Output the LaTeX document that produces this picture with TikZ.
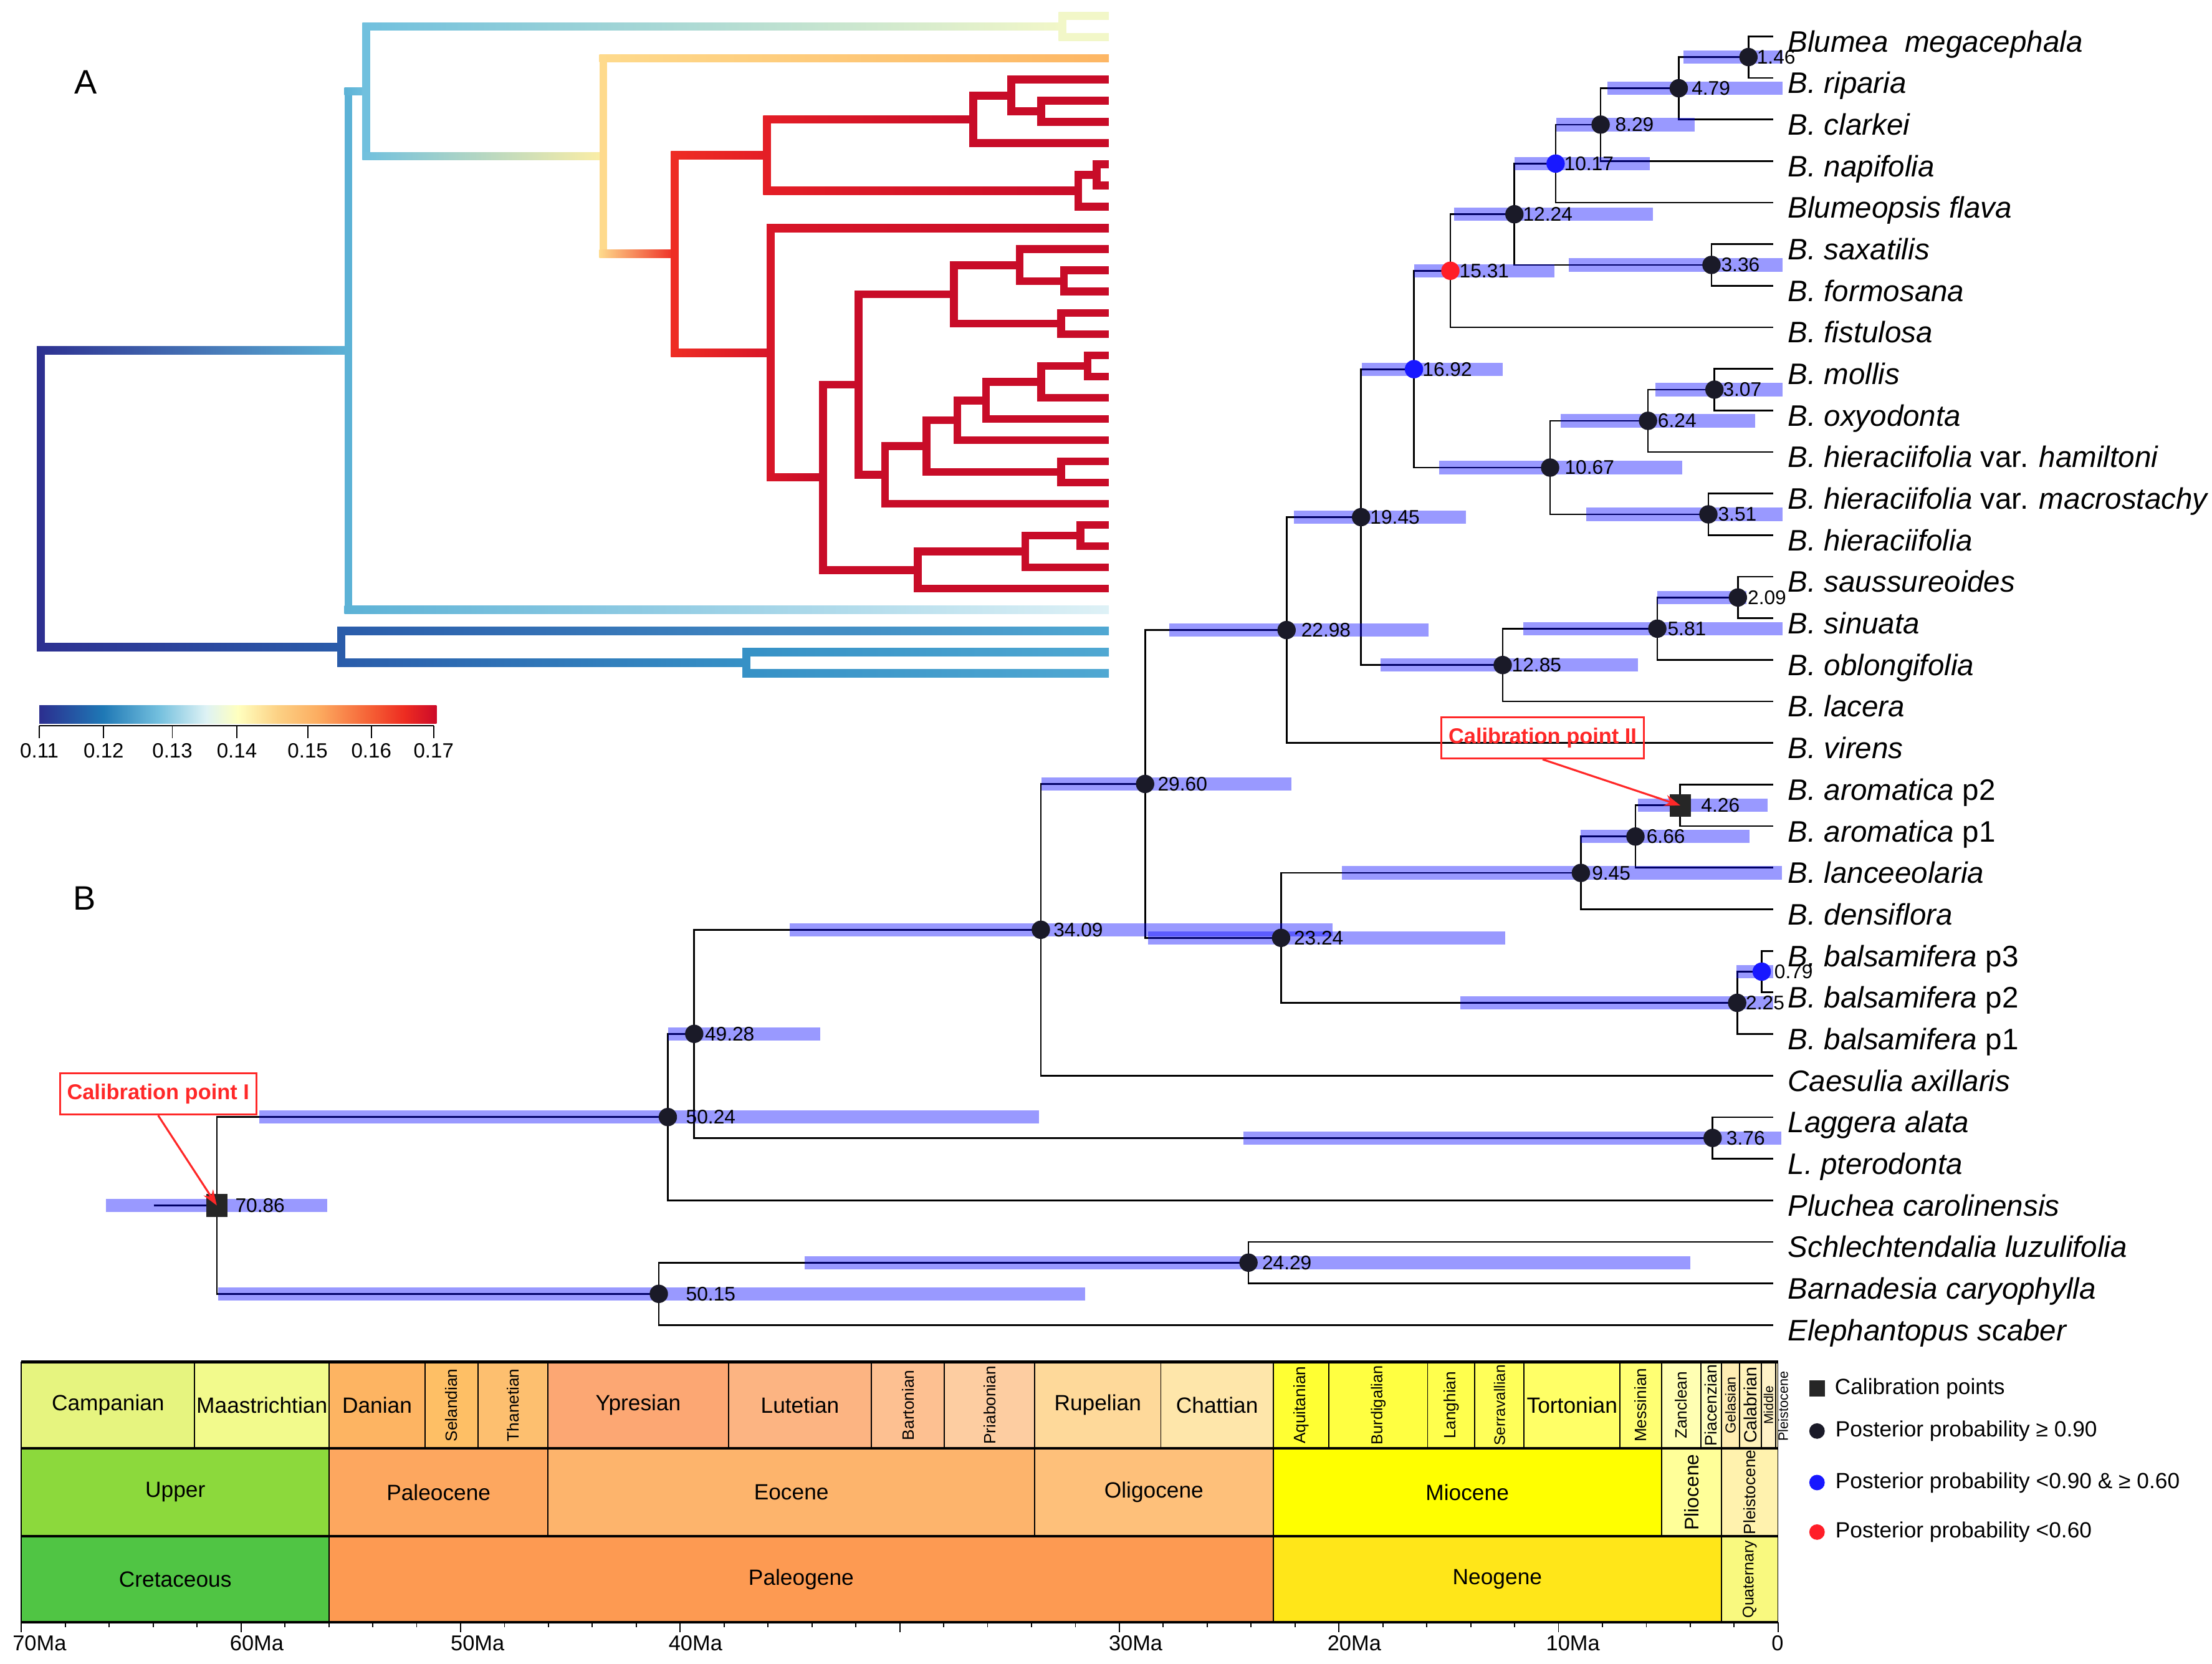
\documentclass[tikz,border=0pt]{standalone}
\usepackage{fontspec}
\setmainfont{Liberation Sans}
\usetikzlibrary{positioning,calc,arrows.meta}

\definecolor{hpd}{RGB}{0,0,255}
\definecolor{ppdark}{RGB}{26,26,40}
\definecolor{ppblue}{RGB}{24,24,255}
\definecolor{ppred}{RGB}{255,30,40}
\definecolor{calgrey}{RGB}{38,38,38}
\definecolor{calred}{RGB}{255,40,40}
% rate colours, panel A
\definecolor{aNavy}{RGB}{45,48,145}
\definecolor{aBlue}{RGB}{42,92,170}
\definecolor{aMid}{RGB}{32,115,182}
\definecolor{aTeal}{RGB}{54,145,198}
\definecolor{aLight}{RGB}{80,168,210}
\definecolor{aSky}{RGB}{92,178,214}
\definecolor{aSky2}{RGB}{112,192,222}
\definecolor{aIce}{RGB}{200,232,240}
\definecolor{aPale}{RGB}{222,241,246}
\definecolor{aCream}{RGB}{242,247,200}
\definecolor{aLemon}{RGB}{252,238,165}
\definecolor{aSand}{RGB}{254,218,140}
\definecolor{aOrange}{RGB}{253,182,100}
\definecolor{aFlame}{RGB}{247,125,72}
\definecolor{aRed}{RGB}{238,45,36}
\definecolor{aRed2}{RGB}{228,30,38}
\definecolor{aRed3}{RGB}{216,22,40}
\definecolor{aCrim}{RGB}{200,12,40}
% time scale
\definecolor{campan}{RGB}{230,244,127}
\definecolor{maastr}{RGB}{242,250,140}
\definecolor{danian}{RGB}{253,180,98}
\definecolor{seland}{RGB}{254,191,101}
\definecolor{thanet}{RGB}{253,191,111}
\definecolor{ypres}{RGB}{252,167,115}
\definecolor{lutet}{RGB}{252,180,130}
\definecolor{barton}{RGB}{253,192,145}
\definecolor{priab}{RGB}{253,205,161}
\definecolor{rupel}{RGB}{254,217,154}
\definecolor{chatt}{RGB}{254,230,170}
\definecolor{aquit}{RGB}{255,255,51}
\definecolor{burdig}{RGB}{255,255,65}
\definecolor{langh}{RGB}{255,255,77}
\definecolor{serra}{RGB}{255,255,89}
\definecolor{torton}{RGB}{255,255,102}
\definecolor{messin}{RGB}{255,255,115}
\definecolor{zancl}{RGB}{255,255,179}
\definecolor{piacen}{RGB}{255,255,191}
\definecolor{gelas}{RGB}{255,237,179}
\definecolor{calab}{RGB}{255,242,186}
\definecolor{midpl}{RGB}{255,242,199}
\definecolor{upper}{RGB}{140,217,60}
\definecolor{paleoc}{RGB}{253,167,95}
\definecolor{eoc}{RGB}{253,180,108}
\definecolor{oligo}{RGB}{254,192,122}
\definecolor{mioc}{RGB}{255,255,0}
\definecolor{plioc}{RGB}{255,255,153}
\definecolor{pleist}{RGB}{255,242,174}
\definecolor{cret}{RGB}{80,197,68}
\definecolor{paleog}{RGB}{253,154,82}
\definecolor{neog}{RGB}{255,230,25}
\definecolor{quat}{RGB}{249,249,127}

\pgfdeclarehorizontalshading{ratebar}{100bp}{rgb(0bp)=(0.17,0.18,0.56); rgb(25bp)=(0.17,0.18,0.56); rgb(33bp)=(0.12,0.47,0.71); rgb(40bp)=(0.45,0.75,0.87); rgb(46bp)=(0.87,0.95,0.96); rgb(50bp)=(1,1,0.75); rgb(55bp)=(0.99,0.82,0.52); rgb(60bp)=(0.99,0.68,0.38); rgb(67bp)=(0.96,0.36,0.2); rgb(71bp)=(0.93,0.17,0.13); rgb(75bp)=(0.80,0.04,0.16); rgb(100bp)=(0.80,0.04,0.16)}

\tikzset{
  aline/.style={line width=2.8pt},
  br/.style={line width=0.6pt},
  bar/.style={draw=hpd, draw opacity=0.4, line width=4.7pt},
  pp/.style={circle, fill=ppdark, inner sep=0pt, minimum size=6.5pt},
  ppb/.style={pp, fill=ppblue},
  ppr/.style={pp, fill=ppred},
  cal/.style={rectangle, fill=calgrey, inner sep=0pt, minimum width=7.5pt, minimum height=8pt},
  age/.style={font=\fontsize{7}{8}\selectfont, anchor=west, inner sep=0pt},
  sp/.style={font=\fontsize{10.5}{12}\selectfont\itshape, anchor=base west, inner sep=0pt},
  calbox/.style={draw=calred, line width=0.75pt, text=calred, font=\fontsize{7.6}{9}\selectfont\bfseries, inner xsep=2.5pt, minimum height=14.5pt},
  calarrow/.style={calred, line width=0.7pt, -{Stealth[length=5.5pt,width=4pt]}},
  tsbox/.style={draw=black, line width=0.4pt},
  tsrule/.style={line width=1pt},
  tstxt/.style={font=\fontsize{7.8}{9}\selectfont, inner sep=0pt},
  tsrot/.style={rotate=90, inner sep=0pt},
  tick/.style={line width=0.4pt},
  axlab/.style={font=\fontsize{7.6}{9}\selectfont, inner sep=0pt},
  cblab/.style={font=\fontsize{7.3}{8}\selectfont, inner sep=0pt},
  legtxt/.style={font=\fontsize{7.8}{9}\selectfont, inner sep=0pt},
  panel/.style={font=\fontsize{12}{14}\selectfont, inner sep=0pt}
}

% parent, child, colour at parent, middle colour, colour at child
\newcommand\abranch[5]{%
  \draw[aline,#3] (#1) -- (#1 |- #2);
  \shade[left color=#3,middle color=#4,right color=#5] ($(#1 |- #2)+(-1.4pt,-1.4pt)$) rectangle ($(#2)+(0,1.4pt)$);}

\begin{document}
\begin{tikzpicture}[x=0.5pt,y=-0.5pt]
\useasboundingbox (0,0) rectangle (1568,1179);

% panel A
\foreach \nm/\x/\y in {ar/28.9/353.45, a1/247/248.44, a2/241.9/458.45, a3/259.7/64.74, a4/753.2/18.82, a5/427.6/110.65, a6/478.3/179.94, a7/543.7/109.94, a8/546.3/249.94, a9/689.8/84.58, a10/764.4/135.3, a11/716.7/67.67, a12/738/78.94, a13/777.5/124.03, a14/583.3/338.27, a15/608.6/272.57, a16/650.7/403.96, a17/676.1/208.57, a18/627.4/336.56, a19/722.8/187.9, a20/752.2/229.24, a21/754.2/199.18, a22/656.8/316.13, a23/678.6/297.81, a24/752.2/334.45, a25/698.9/283.72, a26/738/270.57, a27/771/259.3, a28/726.8/390.81, a29/765.9/379.54, a30/529/469.72}
  \coordinate (\nm) at (\x,\y);
\foreach \k in {0,...,31}
  \coordinate (at\k) at (786,{11.3+15.03*\k});

\foreach \p/\c/\ca/\cb/\cc in {ar/a1/aNavy/aMid/aSky, ar/a2/aNavy/aNavy/aBlue, a1/a3/aSky/aSky/aSky2, a1/at28/aSky/aSky2/aPale, a3/a4/aSky2/aIce/aCream, a3/a5/aSky2/aIce/aLemon, a4/at0/aCream/aCream/aCream, a4/at1/aCream/aCream/aCream, a5/at2/aSand/aSand/aOrange, a5/a6/aSand/aFlame/aRed, a6/a7/aRed/aRed/aRed2, a6/a8/aRed/aRed2/aRed3, a7/a9/aRed2/aRed3/aCrim, a7/a10/aRed2/aRed3/aCrim, a8/at10/aRed3/aCrim/aCrim, a8/a14/aRed3/aCrim/aCrim, a2/at29/aBlue/aMid/aLight, a2/a30/aBlue/aMid/aTeal, a30/at30/aTeal/aTeal/aLight, a30/at31/aTeal/aTeal/aLight}
  \abranch{\p}{\c}{\ca}{\cb}{\cc};

\foreach \p/\c in {a9/a11, a9/at6, a11/at3, a11/a12, a12/at4, a12/at5, a10/a13, a10/at9, a13/at7, a13/at8, a14/a15, a14/a16, a15/a17, a15/a18, a17/a19, a17/a20, a19/at11, a19/a21, a21/at12, a21/at13, a20/at14, a20/at15, a18/a22, a18/at23, a22/a23, a22/a24, a23/a25, a23/at20, a25/a26, a25/at19, a26/a27, a26/at18, a27/at16, a27/at17, a24/at21, a24/at22, a16/a28, a16/at27, a28/a29, a28/at26, a29/at24, a29/at25}
  \draw[aline,aCrim] (\p) |- (\c);

% colour bar
\shade[shading=ratebar] (27.9,500.1) rectangle (309.4,512.5);
\draw[tick] (27.9,514.2) -- (307.4,514.2);
\foreach \x/\t [count=\k] in {27.9/0.11, 73.5/0.12, 122.2/0.13, 167.9/0.14, 218.1/0.15, 263.2/0.16, 307.4/0.17}{
  \draw[tick] (\x,514.2) -- (\x,523);
  \node[cblab] (cbl\k) at (\x,532) {\t};
}

% panel B
\foreach \nm/\x/\y in {n146/1239.4/40.43, n479/1190/62.53, n829/1134.6/88.3, n1017/1102.7/115.92, n336/1213.2/187.73, n1224/1073.5/151.83, n1531/1028.1/191.87, n307/1215.3/276.11, n624/1168.2/298.2, n351/1211/364.49, n1067/1098.8/331.35, n1692/1002.3/261.61, n209/1231.9/423.41, n581/1174.8/445.5, n1285/1065.2/471.28, n1945/964.8/366.45, n2298/912/446.48, n426/1191/570.71, n666/1159.3/592.8, n945/1120.6/618.58, n079/1248.8/688.55, n225/1231.4/710.65, n2324/908.1/664.6, n2960/811.7/555.54, n3409/737.8/658.87, n376/1214/806.39, n4928/492.1/732.63, n5024/473.4/791.6, n2429/885/894.77, n5015/467/916.87, n7086/153.7/854.24}
  \coordinate (\nm) at (\x,\y);
\coordinate (root) at (109,854.24);

\foreach \i/\sp in {1/{Blumea\ \ megacephala}, 2/{B. riparia}, 3/{B. clarkei}, 4/{B. napifolia}, 5/{Blumeopsis flava}, 6/{B. saxatilis}, 7/{B. formosana}, 8/{B. fistulosa}, 9/{B. mollis}, 10/{B. oxyodonta}, 11/{B. hieraciifolia {\upshape var.} hamiltoni}, 12/{B. hieraciifolia {\upshape var.} macrostachy}, 13/{B. hieraciifolia}, 14/{B. saussureoides}, 15/{B. sinuata}, 16/{B. oblongifolia}, 17/{B. lacera}, 18/{B. virens}, 19/{B. aromatica {\upshape p2}}, 20/{B. aromatica {\upshape p1}}, 21/{B. lanceeolaria}, 22/{B. densiflora}, 23/{B. balsamifera {\upshape p3}}, 24/{B. balsamifera {\upshape p2}}, 25/{B. balsamifera {\upshape p1}}, 26/{Caesulia axillaris}, 27/{Laggera alata}, 28/{L. pterodonta}, 29/{Pluchea carolinensis}, 30/{Schlechtendalia luzulifolia}, 31/{Barnadesia caryophylla}, 32/{Elephantopus scaber}}{
  \coordinate (t\i) at (1257,{25.7+29.46*(\i-1)});
  \node[sp] (s\i) at ($(t\i)+(10,11)$) {\sp};
}

\foreach \p/\c in {n146/t1, n146/t2, n479/n146, n479/t3, n829/n479, n829/t4, n1017/n829, n1017/t5, n1224/n1017, n1224/n336, n336/t6, n336/t7, n1531/n1224, n1531/t8, n1692/n1531, n1692/n1067, n307/t9, n307/t10, n624/n307, n624/t11, n351/t12, n351/t13, n1067/n624, n1067/n351, n1945/n1692, n1945/n1285, n209/t14, n209/t15, n581/n209, n581/t16, n1285/n581, n1285/t17, n2298/n1945, n2298/t18, n426/t19, n426/t20, n666/n426, n666/t21, n945/n666, n945/t22, n079/t23, n079/t24, n225/n079, n225/t25, n2324/n945, n2324/n225, n2960/n2298, n2960/n2324, n3409/n2960, n3409/t26, n376/t27, n376/t28, n4928/n3409, n4928/n376, n5024/n4928, n5024/t29, n2429/t30, n2429/t31, n5015/n2429, n5015/t32, n7086/n5024, n7086/n5015}
  \draw[br] (\p) |- (\c);
\draw[br] (root) -- (n7086);

% 95% HPD bars
\foreach \nd/\xa/\xb in {n146/1193.5/1263.4, n479/1139.4/1263.4, n829/1103.2/1201.4, n1017/1073.5/1169.5, n1224/1030.7/1171.7, n336/1111.9/1263.4, n1531/1002.3/1101.9, n1692/965.2/1065.2, n307/1173.4/1263.4, n624/1106.2/1244.2, n1067/1020.2/1192.6, n351/1124.6/1263.4, n1945/917.2/1039, n209/1174.8/1238, n581/1079.6/1263.4, n2298/829/1012.8, n1285/978.8/1161.2, n426/1161/1252.8, n666/1120.6/1240.1, n945/951.4/1263.2, n079/1231/1257, n225/1035/1257, n2960/738.3/915.6, n3409/559.6/944.6, n2324/814/1066.9, n4928/473.4/581.2, n376/881.4/1262.8, n2429/570.4/1198.2, n5024/183.6/736.5, n5015/154.7/769.4, n7086/75/231.8}
  \draw[bar] (\xa,0 |- \nd) -- (\xb,0 |- \nd);

\foreach \nd/\sty/\lx/\age in {n146/pp/1245/1.46, n479/pp/1198.8/4.79, n829/pp/1144.6/8.29, n1017/ppb/1108.4/10.17, n1224/pp/1079.2/12.24, n336/pp/1219.7/3.36, n1531/ppr/1034.2/15.31, n1692/ppb/1008/16.92, n307/pp/1221/3.07, n624/pp/1174.8/6.24, n1067/pp/1108.8/10.67, n351/pp/1217.5/3.51, n1945/pp/970.9/19.45, n209/pp/1238.5/2.09, n581/pp/1181.7/5.81, n2298/pp/922/22.98, n1285/pp/1071.3/12.85, n426/cal/1205.5/4.26, n666/pp/1166.8/6.66, n945/pp/1128.1/9.45, n2960/pp/820.3/29.60, n3409/pp/746.4/34.09, n2324/pp/916.8/23.24, n079/ppb/1257.4/0.79, n225/pp/1237.2/2.25, n4928/pp/499.3/49.28, n376/pp/1223.4/3.76, n2429/pp/894.3/24.29, n5024/pp/485.9/50.24, n5015/pp/485.9/50.15, n7086/cal/166.4/70.86}{
  \node[\sty] (m\nd) at (\nd) {};
  \node[age] (l\nd) at (\lx,0 |- \nd) {\age};
}

% calibrations
\node[calbox] (cal1) at (112.1,775.2) {Calibration point I};
\node[calbox] (cal2) at (1093.5,522.9) {Calibration point II};
\draw[calarrow] (cal1.south) -- (n7086);
\draw[calarrow] (cal2.south) -- (n426);

% geological time scale
\foreach \xa/\xb/\col/\txt [count=\k] in {15.2/138/campan/Campanian, 138/233.3/maastr/Maastrichtian, 233.3/301.3/danian/Danian, 388.5/516.3/ypres/Ypresian, 516.3/617.8/lutet/Lutetian, 733.4/822.9/rupel/Rupelian, 822.9/902.5/chatt/Chattian, 1080.4/1148.3/torton/Tortonian}{
  \draw[tsbox,fill=\col] (\xa,965.2) rectangle (\xb,1026.3);
  \node[tstxt] (st\k) at ({(\xa+\xb)/2},995.75) {\txt};
}
\foreach \xa/\xb/\col/\txt/\fs [count=\k] in {301.3/338.8/seland/Selandian/5.8, 338.8/388.5/thanet/Thanetian/5.8, 617.8/669.5/barton/Bartonian/5.8, 669.5/733.4/priab/Priabonian/5.8, 902.5/942/aquit/Aquitanian/5.8, 942/1012/burdig/Burdigalian/5.6, 1012/1045.4/langh/Langhian/5.8, 1045.4/1080.4/serra/Serravallian/5.4, 1148.3/1177.7/messin/Messinian/5.8, 1177.7/1205.6/zancl/Zanclean/5.8, 1205.6/1220.3/piacen/Piacenzian/5.9, 1220.3/1233/gelas/Gelasian/5.1, 1233/1248.7/calab/Calabrian/6.3, 1248.7/1258.6/midpl/Middle/4.6}{
  \draw[tsbox,fill=\col] (\xa,965.2) rectangle (\xb,1026.3);
  \node[tsrot,font=\fontsize{\fs}{\fs}\selectfont] (sr\k) at ({(\xa+\xb)/2},995.75) {\txt};
}
\draw[tsbox,fill=midpl] (1258.6,965.2) rectangle (1260.3,1026.3);
\node[tsrot,font=\fontsize{4.8}{5}\selectfont] (srpl) at (1264,996.5) {Pleistocene};

\foreach \xa/\xb/\col/\txt [count=\k] in {15.2/233.3/upper/Upper, 233.3/388.5/paleoc/Paleocene, 388.5/733.4/eoc/Eocene, 733.4/902.5/oligo/Oligocene, 902.5/1177.7/mioc/Miocene}{
  \draw[tsbox,fill=\col] (\xa,1026.3) rectangle (\xb,1088.6);
  \node[tstxt] (ep\k) at ({(\xa+\xb)/2},1057.45) {\txt};
}
\foreach \xa/\xb/\col/\txt/\fs [count=\k] in {1177.7/1220.3/plioc/Pliocene/7, 1220.3/1260.3/pleist/Pleistocene/5.8}{
  \draw[tsbox,fill=\col] (\xa,1026.3) rectangle (\xb,1088.6);
  \node[tsrot,font=\fontsize{\fs}{\fs}\selectfont] (er\k) at ({(\xa+\xb)/2},1057.45) {\txt};
}
\foreach \xa/\xb/\col/\txt [count=\k] in {15.2/233.3/cret/Cretaceous, 233.3/902.5/paleog/Paleogene, 902.5/1220.3/neog/Neogene}{
  \draw[tsbox,fill=\col] (\xa,1088.6) rectangle (\xb,1149.6);
  \node[tstxt] (pe\k) at ({(\xa+\xb)/2},1119.1) {\txt};
}
\draw[tsbox,fill=quat] (1220.3,1088.6) rectangle (1260.3,1149.6);
\node[tsrot,font=\fontsize{5.5}{6}\selectfont] (qr) at (1240.3,1119.1) {Quaternary};
\foreach \y in {965.2,1026.3,1088.6,1149.6}
  \draw[tsrule] (15.2,\y) -- (1260.3,\y);

% time axis
\foreach \k in {0,...,40}
  \draw[tick] ({15.2+31.13*\k},1149.6) -- ++(0,3.5);
\foreach \k in {0,5,...,40}
  \draw[tick] ({15.2+31.13*\k},1149.6) -- ++(0,7);
\foreach \x/\t [count=\k] in {28/70Ma, 182/60Ma, 338.5/50Ma, 493/40Ma, 805/30Ma, 960/20Ma, 1115/10Ma, 1260/0}
  \node[axlab] (ax\k) at (\x,1164.5) {\t};

% legend
\node[cal, minimum width=5.6pt, minimum height=5.8pt] (lg1) at (1288,984) {};
\node[legtxt, right=3.1pt of lg1] (lgt1) {Calibration points};
\node[pp, minimum size=5.5pt] (lg2) at (1288,1014.1) {};
\node[legtxt, right=3.4pt of lg2] (lgt2) {Posterior probability ≥ 0.90};
\node[ppb, minimum size=5.5pt] (lg3) at (1288,1050.6) {};
\node[legtxt, right=3.4pt of lg3] (lgt3) {Posterior probability <0.90 \& ≥ 0.60};
\node[ppr, minimum size=5.5pt] (lg4) at (1288,1085.7) {};
\node[legtxt, right=3.4pt of lg4] (lgt4) {Posterior probability <0.60};

\node[panel] (labA) at (60.9,58.1) {A};
\node[panel] (labB) at (59.8,636.5) {B};
\end{tikzpicture}
\end{document}
